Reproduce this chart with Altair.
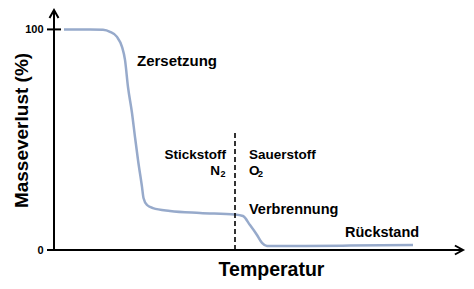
import altair as alt
import pandas as pd

# ---- data (temperature in arbitrary units, mass in %) ----
temperature = [10, 36, 49, 56, 63, 68, 71, 74, 78, 81, 84, 88, 89.5, 93, 99, 116,
               146, 181, 189, 196, 203, 208, 213, 246, 296, 359]
mass = [100, 100, 99.8, 98.9, 96.6, 92.1, 86.2, 73.9, 62.1, 51.2, 40.8, 28.6, 23.6,
        20.4, 19.0, 17.7, 16.8, 16.1, 15.4, 11.3, 6.8, 3.2, 1.8, 1.8, 2.0, 2.3]

y_ticks = [0, 100]
y_top = 108.8
x_max = 409
switch_temp = 181          # change from nitrogen to oxygen
switch_top = 54.4

labels = ["Zersetzung", "Stickstoff", "Sauerstoff", "Verbrennung", "Rückstand"]
label_x = [83, 172, 195, 195, 291]
label_y = [83.2, 41.1, 41.1, 16.3, 6.0]
label_align = ["left", "right", "left", "left", "left"]
label_size = [15, 13.5, 13.5, 14.5, 14.5]

gas = ["N", "O"]
gas_x = [166, 195]
gas_y = [34.0, 34.0]
gas_align = ["right", "left"]
sub_x = [166.5, 204]
sub_y = [33.0, 33.0]

FONT = "Liberation Sans"

xs = alt.Scale(domain=[0, x_max], nice=False, zero=False)
ys = alt.Scale(domain=[0, y_top], nice=False, zero=False)

curve_df = pd.DataFrame({"t": temperature, "m": mass})

base_x = alt.X("t:Q", scale=xs,
               axis=alt.Axis(title="Temperatur", labels=False, ticks=False, domain=False,
                             grid=False, titleFont=FONT, titleFontSize=19.5,
                             titleFontWeight="bold", titleColor="black",
                             titleX=217, titleY=25, titleAlign="center",
                             titleBaseline="alphabetic"))
base_y = alt.Y("m:Q", scale=ys,
               axis=alt.Axis(title="Masseverlust (%)", values=y_ticks, ticks=False, tickSize=0,
                             domain=False, grid=False, labelFont=FONT, labelFontSize=11,
                             labelFontWeight="bold", labelColor="black", labelPadding=11,
                             labelBaseline="middle",
                             titleFont=FONT, titleFontSize=19, titleFontWeight="bold",
                             titleColor="black", titleAngle=270, titleX=-27, titleY=120,
                             titleAlign="center", titleBaseline="alphabetic"))

curve = alt.Chart(curve_df).mark_line(
    color="#97aacb", strokeWidth=2.5, interpolate="monotone"
).encode(x=base_x, y=base_y)

# axes lines
axes_df = pd.DataFrame({"t": [0, -7], "t2": [0, x_max], "m": [0, 0], "m2": [y_top, 0]})
axes = alt.Chart(axes_df).mark_rule(color="black", strokeWidth=2).encode(
    x=alt.X("t:Q", scale=xs), x2="t2:Q", y=alt.Y("m:Q", scale=ys), y2="m2:Q")

tick_df = pd.DataFrame({"t": [-7], "t2": [7], "m": [100]})
tick = alt.Chart(tick_df).mark_rule(color="black", strokeWidth=2).encode(
    x=alt.X("t:Q", scale=xs), x2="t2:Q", y=alt.Y("m:Q", scale=ys))

up_df = pd.DataFrame({"t": [0], "m": [y_top]})
arrow_up = alt.Chart(up_df).mark_point(
    shape="M -1 1.8 L 0 0 L 1 1.8", filled=False, stroke="black", strokeWidth=2,
    size=81, opacity=1
).encode(x=alt.X("t:Q", scale=xs), y=alt.Y("m:Q", scale=ys))

right_df = pd.DataFrame({"t": [x_max], "m": [0]})
arrow_right = alt.Chart(right_df).mark_point(
    shape="M -1.8 -1 L 0 0 L -1.8 1", filled=False, stroke="black", strokeWidth=2,
    size=81, opacity=1
).encode(x=alt.X("t:Q", scale=xs), y=alt.Y("m:Q", scale=ys))

dash_df = pd.DataFrame({"t": [switch_temp], "m": [0], "m2": [switch_top]})
dash = alt.Chart(dash_df).mark_rule(color="black", strokeWidth=1.6, strokeDash=[5, 3]).encode(
    x=alt.X("t:Q", scale=xs), y=alt.Y("m:Q", scale=ys), y2="m2:Q")

text_layers = []
for lab, lx, ly, la, ls in zip(labels, label_x, label_y, label_align, label_size):
    d = pd.DataFrame({"t": [lx], "m": [ly], "txt": [lab]})
    text_layers.append(alt.Chart(d).mark_text(
        font=FONT, fontWeight="bold", fontSize=ls, align=la, baseline="alphabetic",
        color="black").encode(x=alt.X("t:Q", scale=xs), y=alt.Y("m:Q", scale=ys), text="txt:N"))

for g, gx, gy, ga, sx, sy in zip(gas, gas_x, gas_y, gas_align, sub_x, sub_y):
    d = pd.DataFrame({"t": [gx], "m": [gy], "txt": [g]})
    text_layers.append(alt.Chart(d).mark_text(
        font=FONT, fontWeight="bold", fontSize=13.5, align=ga, baseline="alphabetic",
        color="black").encode(x=alt.X("t:Q", scale=xs), y=alt.Y("m:Q", scale=ys), text="txt:N"))
    d2 = pd.DataFrame({"t": [sx], "m": [sy], "txt": ["2"]})
    text_layers.append(alt.Chart(d2).mark_text(
        font=FONT, fontWeight="bold", fontSize=9, align="left", baseline="alphabetic",
        color="black").encode(x=alt.X("t:Q", scale=xs), y=alt.Y("m:Q", scale=ys), text="txt:N"))

chart = alt.layer(curve, axes, tick, arrow_up, arrow_right, dash, *text_layers).properties(
    width=409, height=240,
    autosize=alt.AutoSizeParams(type="none"),
    padding={"left": 54, "top": 10, "right": 11, "bottom": 39},
    background="white",
).configure_view(stroke=None)

chart.save("out.html", embed_options={"renderer": "svg", "actions": False})
